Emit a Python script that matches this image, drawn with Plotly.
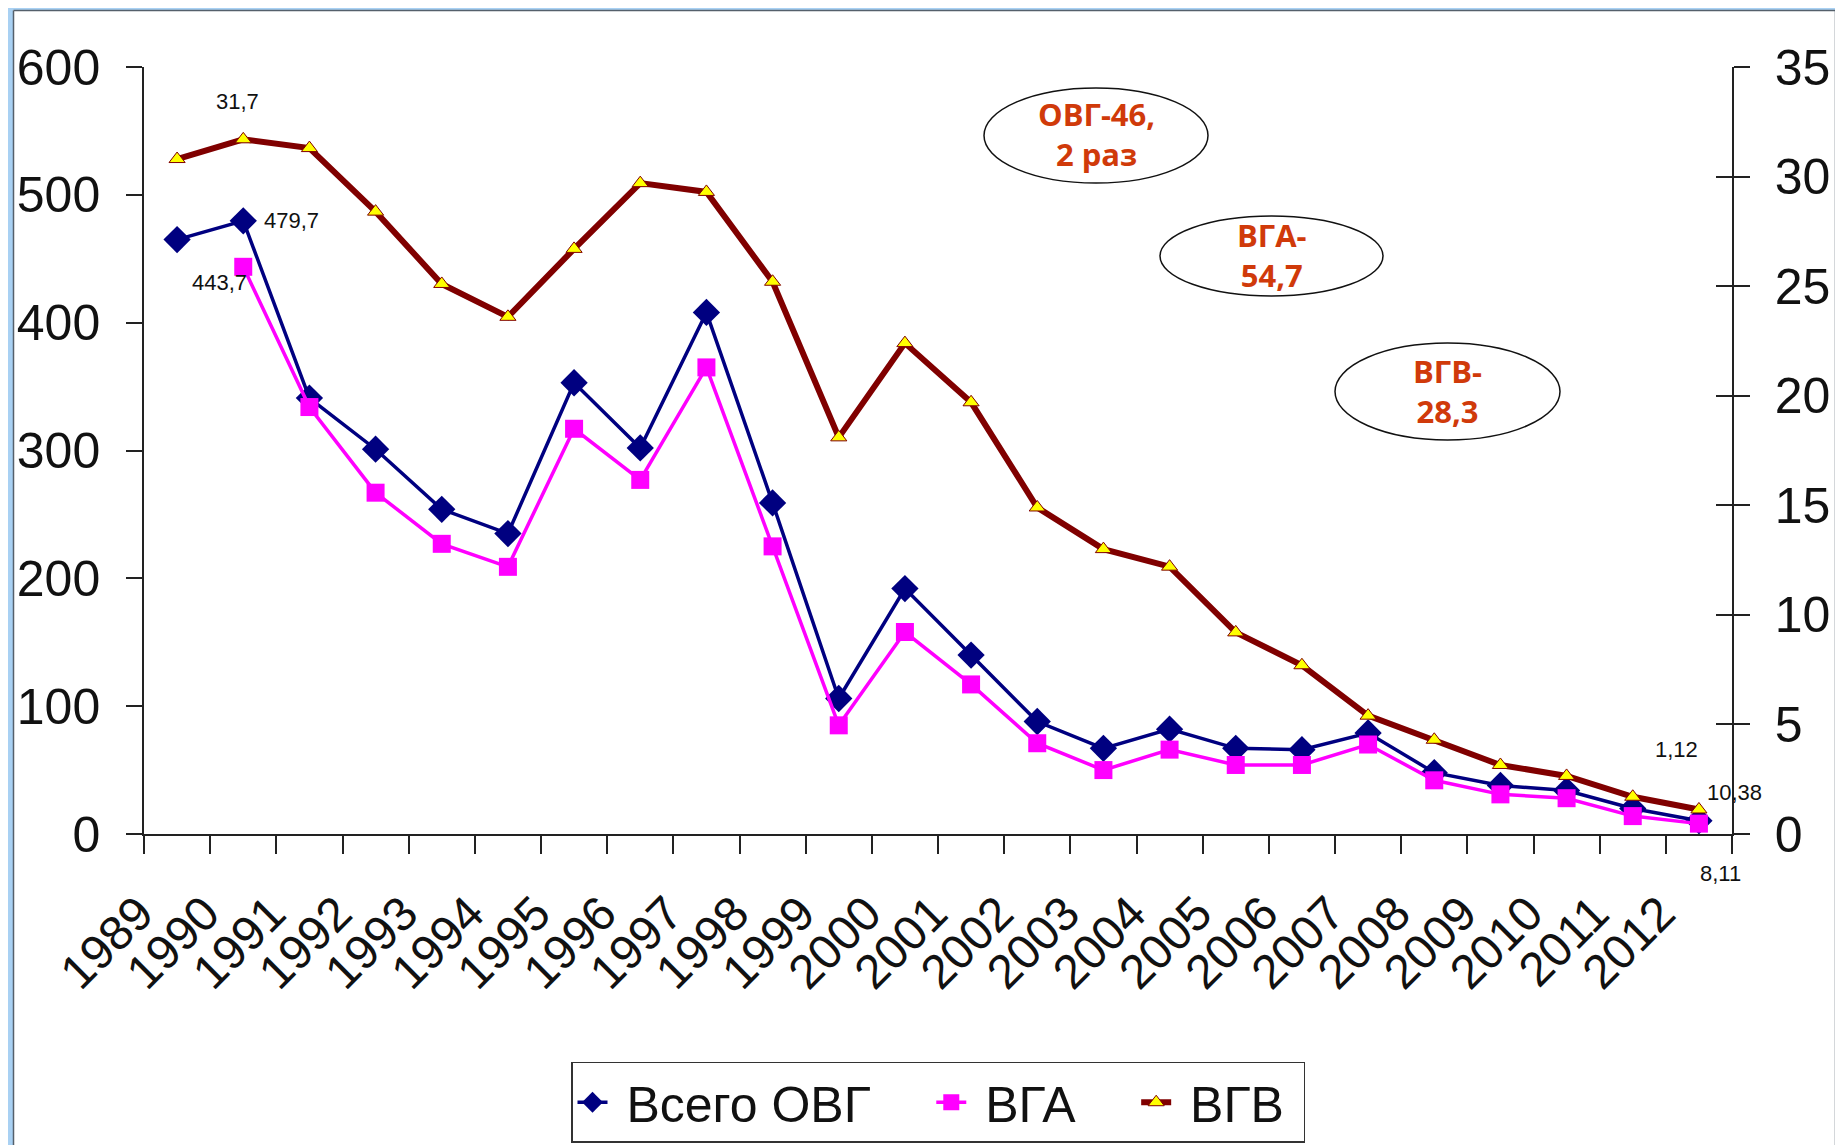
import plotly.graph_objects as go

# --- Data
YEARS = ["1989", "1990", "1991", "1992", "1993", "1994", "1995", "1996",
         "1997", "1998", "1999", "2000", "2001", "2002", "2003", "2004",
         "2005", "2006", "2007", "2008", "2009", "2010", "2011", "2012"]

TOTAL_OVG = [465, 479.7, 341, 301, 254, 235, 353, 302, 408, 259, 106, 192,
             140, 88, 67, 82, 67, 66, 79, 48, 38, 34, 20, 10.38]
VGA = [None, 443.7, 334, 267, 227, 209, 317, 277, 365, 225, 85, 158,
       117, 71, 50, 66, 54, 54, 70, 42, 31, 28, 14, 8.11]
VGV = [30.8, 31.7, 31.3, 28.4, 25.1, 23.6, 26.7, 29.7, 29.3, 25.2, 18.1, 22.4,
       19.7, 14.9, 13.0, 12.2, 9.2, 7.7, 5.4, 4.3, 3.15, 2.65, 1.7, 1.12]

NAMES = ["Всего ОВГ", "ВГА", "ВГВ"]
BUBBLES = [("ОВГ-46,", "2 раз"), ("ВГА-", "54,7"), ("ВГВ-", "28,3")]

# --- Page geometry (px). The page body has an 8px margin, so the figure
# starts at (8, 8) of the window.
OFF = 8
PAGE_W, PAGE_H = 1843, 1145
W, H = PAGE_W - OFF, PAGE_H - OFF
L, R, T, B = 144, 1732, 67, 834        # plot area in window pixels

FONT = "Liberation Sans, Arial, sans-serif"
BOLD_RED = "#D03A0A"
NBSP = "\u00a0"


def px_x(p):
    return (p - L) / (R - L)


def px_y(p):
    return (B - p) / (B - T)


fig = go.Figure()

fig.add_trace(go.Scatter(
    x=YEARS, y=TOTAL_OVG, name=NBSP + NAMES[0] + NBSP * 4, mode="lines+markers",
    line=dict(color="#000080", width=3.5),
    marker=dict(symbol="diamond", size=21, color="#000080"),
))
fig.add_trace(go.Scatter(
    x=YEARS, y=VGA, name=NBSP + NAMES[1] + NBSP * 4, mode="lines+markers",
    line=dict(color="#FF00FF", width=3.5),
    marker=dict(symbol="square", size=18, color="#FF00FF"),
))
fig.add_trace(go.Scatter(
    x=YEARS, y=VGV, name=NBSP + NAMES[2] + NBSP, mode="lines+markers", yaxis="y2",
    line=dict(color="#800000", width=6),
    marker=dict(symbol="triangle-up", size=14, color="#FFFF00",
                line=dict(color="#800000", width=1)),
))
# carrier for the inner right-axis ticks
fig.add_trace(go.Scatter(x=[YEARS[0]], y=[None], yaxis="y3", showlegend=False,
                         hoverinfo="skip"))

# --- data labels (x given as category index)
last = len(YEARS) - 1
lbl = dict(showarrow=False, font=dict(family=FONT, size=22, color="#111"))
fig.add_annotation(x=1, y=VGV[1], yref="y2", text="31,7", yshift=38, xshift=-6, **lbl)
fig.add_annotation(x=1, y=TOTAL_OVG[1], text="479,7", xshift=48, **lbl)
fig.add_annotation(x=1, y=VGA[1], text="443,7", xshift=-24, yshift=-16, **lbl)
fig.add_annotation(x=last, y=VGV[-1], yref="y2", text="1,12", xshift=-22, yshift=60, **lbl)
fig.add_annotation(x=last, y=TOTAL_OVG[-1], text="10,38", xshift=36, yshift=28, **lbl)
fig.add_annotation(x=last, y=VGA[-1], text="8,11", xshift=22, yshift=-50, **lbl)

# --- bubbles
shapes = []
ellipses = [(984, 88, 1208, 183), (1160, 216, 1383, 296), (1335, 343, 1560, 440)]
for (x0, y0, x1, y1), (l1, l2) in zip(ellipses, BUBBLES):
    shapes.append(dict(type="circle", xref="paper", yref="paper",
                       x0=px_x(x0), x1=px_x(x1), y0=px_y(y1), y1=px_y(y0),
                       line=dict(color="#111", width=1.5), fillcolor="white",
                       layer="below"))
    fig.add_annotation(xref="paper", yref="paper",
                       x=px_x((x0 + x1) / 2), y=px_y((y0 + y1) / 2 - 1),
                       xanchor="center", yanchor="middle",
                       text=f"{l1}<br>{l2}", showarrow=False,
                       font=dict(family="Open Sans, DejaVu Sans, sans-serif",
                                 size=31, color=BOLD_RED, weight="bold"))

# --- slide frame (as close to the window edge as the page allows)
FRAME = "#A9D1F3"
EDGE = "#55606B"
shapes += [
    dict(type="rect", xref="paper", yref="paper", x0=px_x(OFF), x1=px_x(OFF + 5),
         y0=px_y(PAGE_H), y1=px_y(OFF), fillcolor=FRAME, line_width=0),
    dict(type="rect", xref="paper", yref="paper", x0=px_x(1836), x1=px_x(PAGE_W),
         y0=px_y(PAGE_H), y1=px_y(OFF), fillcolor=FRAME, line_width=0),
    dict(type="rect", xref="paper", yref="paper", x0=px_x(OFF), x1=px_x(PAGE_W),
         y0=px_y(OFF + 2), y1=px_y(OFF), fillcolor=FRAME, line_width=0),
    dict(type="line", xref="paper", yref="paper", x0=px_x(OFF + 5.5), x1=px_x(OFF + 5.5),
         y0=px_y(PAGE_H), y1=px_y(OFF + 2.5), line=dict(color=EDGE, width=1.5)),
    dict(type="line", xref="paper", yref="paper", x0=px_x(1835.5), x1=px_x(1835.5),
         y0=px_y(PAGE_H), y1=px_y(OFF + 2.5), line=dict(color=EDGE, width=1.5)),
    dict(type="line", xref="paper", yref="paper", x0=px_x(OFF + 5.5), x1=px_x(1835.5),
         y0=px_y(OFF + 2.5), y1=px_y(OFF + 2.5), line=dict(color=EDGE, width=1.5)),
]

axis_common = dict(showgrid=False, zeroline=False, showline=True, automargin=False,
                   linecolor="#222", linewidth=1.5, tickcolor="#222", tickwidth=1.5)

fig.update_layout(
    width=W, height=H,
    margin=dict(l=L - OFF, r=PAGE_W - R, t=T - OFF, b=PAGE_H - B, autoexpand=False),
    paper_bgcolor="white", plot_bgcolor="white",
    showlegend=True,
    legend=dict(orientation="h", xref="paper", x=0.5, xanchor="center",
                yref="container", y=0.002, yanchor="bottom",
                bordercolor="#333", borderwidth=1.5, bgcolor="white",
                font=dict(family=FONT, size=50, color="#111"),
                itemwidth=30, tracegroupgap=0),
    xaxis=dict(type="category", range=[-0.5, len(YEARS) - 0.5],
               ticks="outside", tickson="boundaries", ticklen=18,
               tickangle=-45, tickfont=dict(family=FONT, size=48, color="#111"),
               ticklabelstandoff=30, ticklabelshift=-38,
               **axis_common),
    yaxis=dict(range=[0, 600], dtick=100, ticks="outside", ticklen=16,
               tickfont=dict(family=FONT, size=50, color="#111"),
               ticklabelstandoff=16, **axis_common),
    yaxis2=dict(range=[0, 35], dtick=5, overlaying="y", side="right", anchor="x",
                ticks="outside", ticklen=16,
                tickfont=dict(family=FONT, size=50, color="#111"),
                ticklabelstandoff=15, **axis_common),
    yaxis3=dict(range=[0, 35], dtick=5, overlaying="y", side="right", anchor="x",
                ticks="inside", ticklen=16, showticklabels=False,
                **axis_common),
    shapes=shapes,
)

fig.write_html("out.html")
